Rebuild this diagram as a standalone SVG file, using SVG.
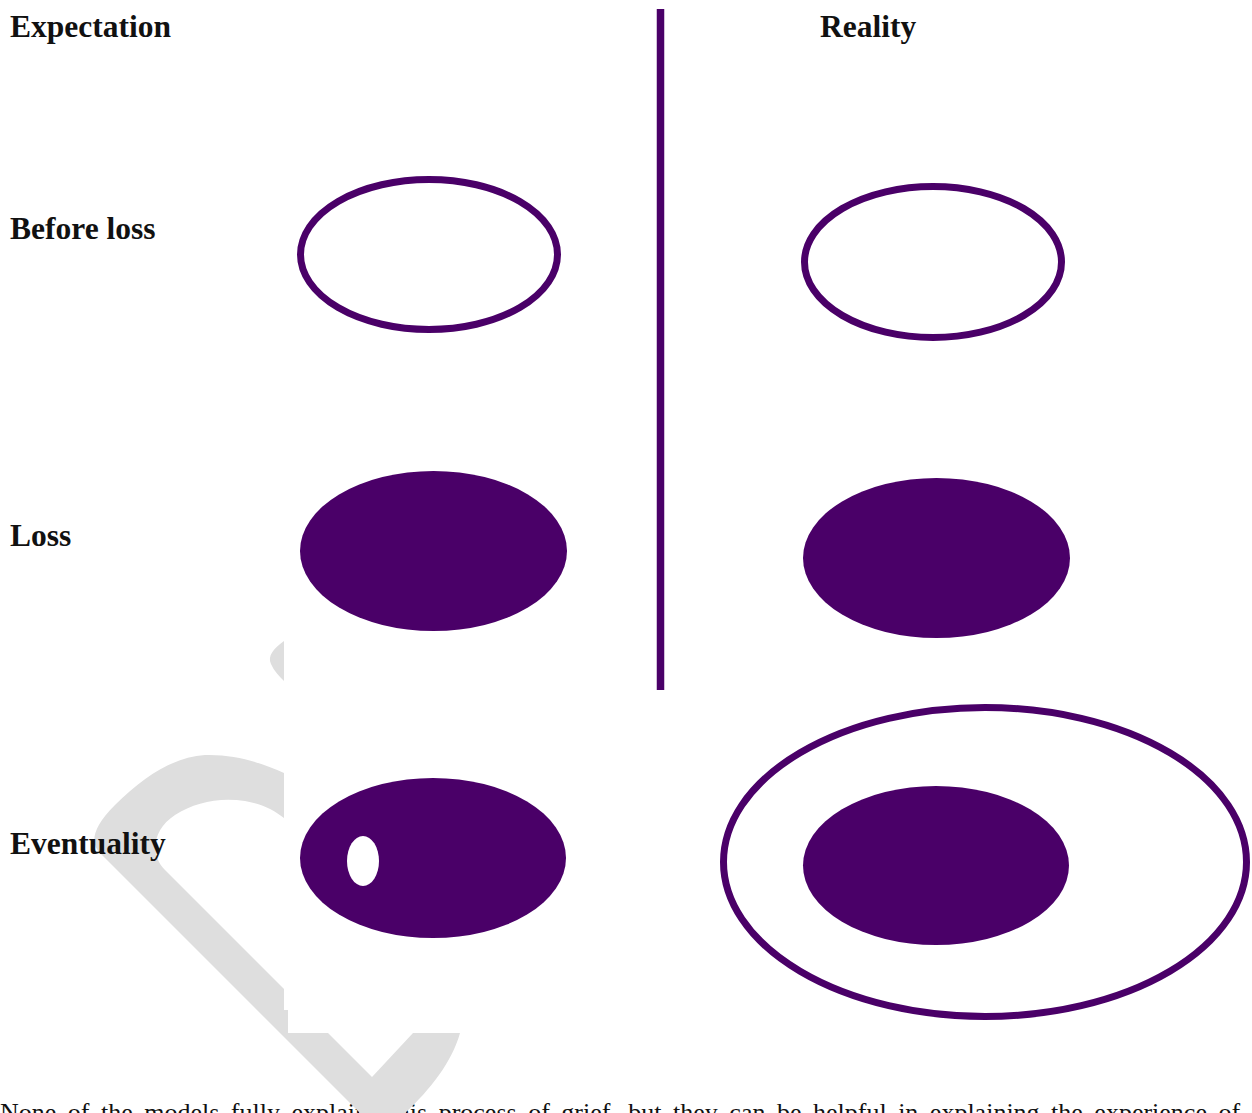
<svg xmlns="http://www.w3.org/2000/svg" width="1252" height="1113" viewBox="0 0 1252 1113">
  <style>
    .lbl { font-family: "Liberation Serif", "Times New Roman", serif; font-weight: bold; font-size: 31.5px; fill: #111; }
    .body { font-family: "Liberation Serif", "Times New Roman", serif; font-size: 26px; fill: #111; }
    .ring { fill: none; stroke: #4a0068; stroke-width: 7; }
    .solid { fill: #4a0068; }
    .wm { fill: #dedede; }
  </style>
  <rect width="1252" height="1113" fill="#ffffff"/>

  <g id="caption">
    <text class="body" x="0" y="1121" word-spacing="5">None of the models fully explains this process of grief, but they can be helpful in explaining the experience of</text>
  </g>

  <g id="watermark">
    <path class="wm" d="M284,641 C274,648 267,656 271,664 C274,671 279,676 284,681 Z"/>
    <path class="wm" d="M284,773 C262,763 235,754 205,755 C175,757 145,775 115,805 C92,828 90,843 100,853 L360,1113 L405,1113 C430,1090 452,1062 460,1033 L413,1033 L372,1077 L328,1033 L288,1033 L288,1010 L284,1010 L284,989 L165,870 C150,855 152,830 175,815 C195,802 220,797 245,801 C262,804 274,810 284,818 Z"/>
  </g>

  <g id="headers">
    <text class="lbl" x="10" y="37">Expectation</text>
    <text class="lbl" x="820" y="37">Reality</text>
  </g>

  <g id="row-labels">
    <text class="lbl" x="10" y="239">Before loss</text>
    <text class="lbl" x="10" y="546">Loss</text>
    <text class="lbl" x="10" y="854">Eventuality</text>
  </g>

  <g id="connectors">
    <line x1="660.5" y1="9" x2="660.5" y2="690" stroke="#4a0068" stroke-width="7.5"/>
  </g>

  <g id="exp-before">
    <ellipse class="ring" cx="429" cy="254.5" rx="128.5" ry="75"/>
  </g>
  <g id="real-before">
    <ellipse class="ring" cx="933" cy="262" rx="128.5" ry="75.5"/>
  </g>
  <g id="exp-loss">
    <ellipse class="solid" cx="433.5" cy="551" rx="133.5" ry="80"/>
  </g>
  <g id="real-loss">
    <ellipse class="solid" cx="936.5" cy="558" rx="133.5" ry="80"/>
  </g>
  <g id="exp-eventuality">
    <ellipse class="solid" cx="433" cy="858" rx="133" ry="80"/>
    <ellipse cx="363" cy="861" rx="16" ry="25" fill="#ffffff"/>
  </g>
  <g id="real-eventuality">
    <ellipse class="ring" cx="985" cy="862" rx="261.5" ry="154.5"/>
    <ellipse class="solid" cx="936" cy="865.5" rx="133" ry="79.5"/>
  </g>
</svg>
